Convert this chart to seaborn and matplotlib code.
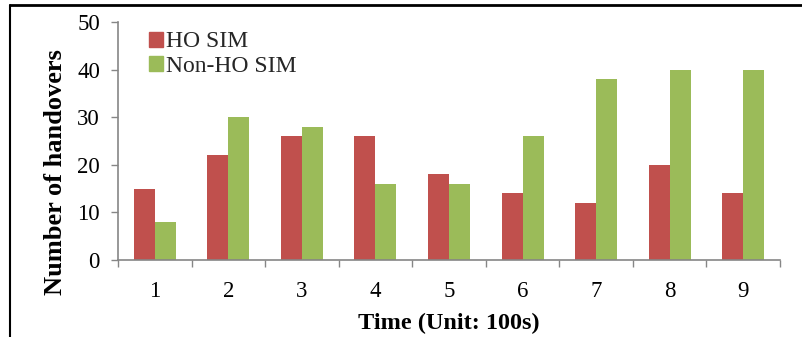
import matplotlib
matplotlib.use("Agg")
import matplotlib.pyplot as plt
import seaborn as sns
import pandas as pd
import numpy as np
from matplotlib.lines import Line2D

categories = ["1", "2", "3", "4", "5", "6", "7", "8", "9"]
ho_sim = [15, 22, 26, 26, 18, 14, 12, 20, 14]
non_ho_sim = [8, 30, 28, 16, 16, 26, 38, 40, 40]
series_names = ["HO SIM", "Non-HO SIM"]
colors = ["#C0504D", "#9BBB59"]

df = pd.DataFrame({
    "Time": categories * 2,
    "Value": ho_sim + non_ho_sim,
    "Series": [series_names[0]] * len(categories) + [series_names[1]] * len(categories),
})

sns.set_theme(style="white")
plt.rcParams["font.family"] = ["Liberation Serif", "DejaVu Serif"]

fig = plt.figure(figsize=(8.03, 3.37), dpi=100)
ax = fig.add_axes([118 / 803, 1 - 260 / 337, 662 / 803, 238 / 337])

sns.barplot(data=df, x="Time", y="Value", hue="Series", palette=colors,
            width=0.57, ax=ax, saturation=1, gap=0, legend=True, linewidth=0)

ax.set_ylim(0, 50)
ax.set_xlim(-0.5, len(categories) - 0.5)
ax.set_yticks(np.arange(0, 51, 10))
ax.tick_params(axis="y", labelsize=16.5, length=5, width=1, color="#868686",
               direction="out", left=True, pad=8, labelcolor="black")
ax.set_xticks(np.arange(-0.5, len(categories), 1.0), minor=True)
ax.tick_params(axis="x", which="major", length=0, labelsize=16.5, pad=15, labelcolor="black")
ax.tick_params(axis="x", which="minor", length=5, width=1, color="#868686",
               direction="out", bottom=True)

for s in ["top", "right"]:
    ax.spines[s].set_visible(False)
for s in ["left", "bottom"]:
    ax.spines[s].set_color("#868686")
    ax.spines[s].set_linewidth(1.2)

ax.set_xlabel("Time (Unit: 100s)", fontsize=17.5, fontweight="bold", labelpad=8, color="black")
ax.set_ylabel("Number of handovers", fontsize=19, fontweight="bold", color="black")
ax.yaxis.set_label_coords(-0.077, 0.37)

handles = [plt.Rectangle((0, 0), 1, 1, color=c) for c in colors]
ax.legend(handles, series_names, loc="upper left", bbox_to_anchor=(0.025, 1.02),
          frameon=False, fontsize=17, handlelength=0.6, handleheight=0.6,
          handletextpad=0.15, labelspacing=0.15, borderaxespad=0.2)

# figure border (top and left lines)
fig.add_artist(Line2D([10 / 803, 1.0], [1 - 5 / 337, 1 - 5 / 337], color="black",
                      linewidth=2.0, transform=fig.transFigure))
fig.add_artist(Line2D([10 / 803, 10 / 803], [0, 1 - 5 / 337], color="black",
                      linewidth=1.5, transform=fig.transFigure))

fig.savefig("out.png", dpi=100)
